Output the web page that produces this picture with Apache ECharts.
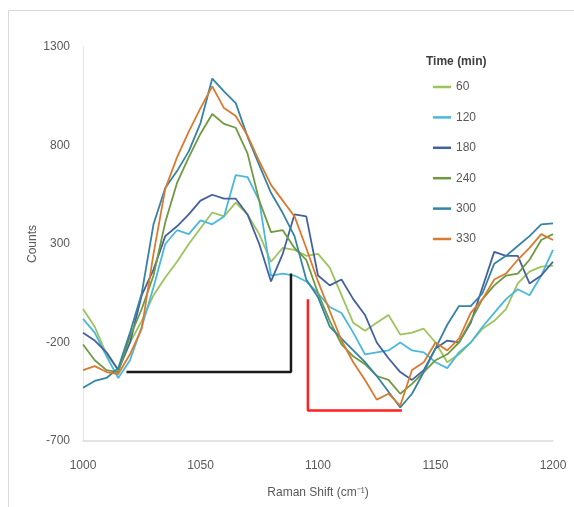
<!DOCTYPE html>
<html>
<head>
<meta charset="utf-8">
<script src="https://cdn.jsdelivr.net/npm/echarts@6/dist/echarts.min.js"></script>
<style>
html,body{margin:0;padding:0;background:#fff;}
#chart{width:574px;height:507px;}
</style>
</head>
<body>
<div id="chart"></div>
<script>
// ---- data ----
const ramanShift = [1000,1005,1010,1015,1020,1025,1030,1035,1040,1045,1050,1055,1060,1065,1070,1075,1080,1085,1090,1095,1100,1105,1110,1115,1120,1125,1130,1135,1140,1145,1150,1155,1160,1165,1170,1175,1180,1185,1190,1195,1200];
const t60  = [-30,-120,-260,-340,-200,-90,40,130,210,300,380,460,440,510,450,350,210,280,270,240,250,180,40,-100,-140,-100,-60,-160,-150,-130,-200,-300,-260,-200,-130,-90,-30,100,160,185,190];
const t120 = [-80,-150,-270,-380,-290,-120,80,300,370,350,420,400,440,650,640,520,140,150,140,110,50,-20,-50,-150,-260,-250,-240,-200,-240,-250,-300,-330,-250,-200,-120,-50,20,70,40,140,270];
const t180 = [-150,-190,-250,-340,-200,40,170,340,390,450,520,550,530,530,450,300,110,250,450,440,140,90,120,20,-60,-200,-280,-350,-390,-340,-230,-190,-200,-100,80,260,240,240,100,140,210];
const t240 = [-210,-290,-340,-350,-170,-30,140,410,610,740,860,960,910,890,760,520,360,370,280,220,50,-90,-210,-270,-310,-370,-390,-460,-410,-350,-290,-260,-200,-90,20,90,140,150,220,320,350];
const t300 = [-430,-395,-380,-330,-150,50,400,584,670,770,914,1140,1075,1015,845,700,560,457,340,120,30,-120,-180,-240,-300,-370,-450,-530,-460,-350,-230,-110,-15,-15,50,200,240,290,340,400,405];
const t330 = [-340,-320,-350,-360,-260,-130,250,580,740,870,990,1100,990,950,850,720,600,520,440,280,110,-40,-190,-300,-390,-490,-460,-520,-340,-300,-200,-240,-180,-50,20,120,150,220,280,350,320];
const seriesNames = ['60','120','180','240','300','330'];
const seriesColors = ['#9DC35D','#4AB8DA','#44619F','#6F9A42','#3584A3','#DA7A31'];
// annotation lines (data coordinates)
const blackX = [1018.5,1088.5,1088.5];
const blackY = [-350,-350,150];
const redX = [1095.7,1095.7,1135.7];
const redY = [20,-545,-545];
const yTicks = {min:-700,max:1300,interval:500};
const xTicks = {min:1000,max:1200,interval:50};

const allValues = [t60,t120,t180,t240,t300,t330];
const zip = (xs, ys) => xs.map((x,i)=>[x, ys[i]]);

const FONT = "'Liberation Sans',Arial,sans-serif";
const chart = echarts.init(document.getElementById('chart'), null, {renderer:'canvas'});

const series = allValues.map((vals,i)=>({
  name: seriesNames[i],
  type:'line',
  data: zip(ramanShift, vals),
  symbol:'none',
  smooth:false,
  lineStyle:{width:1.8,color:seriesColors[i]},
  itemStyle:{color:seriesColors[i]},
  z: 2
}));
series.push({
  name:'black', type:'line', data: zip(blackX, blackY), symbol:'none',
  lineStyle:{width:2.5,color:'#1a1a1a'}, z:3, silent:true
});
series.push({
  name:'red', type:'line', data: zip(redX, redY), symbol:'none',
  lineStyle:{width:2.5,color:'#ff2020'}, z:3, silent:true
});

chart.setOption({
  animation:false,
  backgroundColor:'#ffffff',
  grid:{left:83,right:21,top:47,bottom:66,containLabel:false},
  xAxis:{
    type:'value', min:xTicks.min, max:xTicks.max, interval:xTicks.interval,
    name:'Raman Shift (cm\u207B\u00B9)', nameLocation:'middle', nameGap:46,
    nameTextStyle:{color:'#595959',fontSize:12,fontFamily:FONT},
    axisLine:{show:true,onZero:false,lineStyle:{color:'#d9d9d9',width:1.5}},
    axisTick:{show:false},
    splitLine:{show:false},
    axisLabel:{color:'#595959',fontSize:12,fontFamily:FONT,margin:19,formatter:(v)=>String(v)}
  },
  yAxis:{
    type:'value', min:yTicks.min, max:yTicks.max, interval:yTicks.interval,
    name:'Counts', nameLocation:'middle', nameGap:44, nameRotate:90, nameMoveOverlap:false,
    nameTextStyle:{color:'#595959',fontSize:12,fontFamily:FONT},
    axisLine:{show:true,onZero:false,lineStyle:{color:'#e6e6e6',width:1}},
    axisTick:{show:false},
    splitLine:{show:false},
    axisLabel:{color:'#595959',fontSize:12,fontFamily:FONT,margin:13,formatter:(v)=>String(v)}
  },
  legend:{
    data: seriesNames,
    orient:'vertical', left:428, top:75,
    icon:'rect',
    itemWidth:18, itemHeight:2.5, itemGap:16.4,
    textStyle:{color:'#595959',fontSize:12,fontFamily:FONT,lineHeight:14}
  },
  graphic:[
    {type:'line', shape:{x1:8.5,y1:10.5,x2:574,y2:10.5}, style:{stroke:'#d9d9d9',lineWidth:1}},
    {type:'line', shape:{x1:8.5,y1:10.5,x2:8.5,y2:507}, style:{stroke:'#d9d9d9',lineWidth:1}},
    {type:'text', left:426, top:56, style:{text:'Time (min)',fill:'#404040',font:'bold 12px '+FONT}}
  ],
  series: series
});
</script>
</body>
</html>
